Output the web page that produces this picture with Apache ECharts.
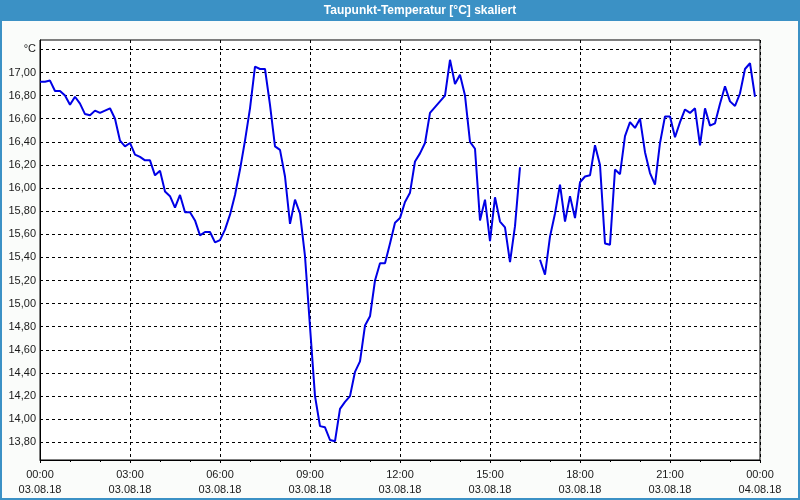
<!DOCTYPE html>
<html>
<head>
<meta charset="utf-8">
<script src="https://cdn.jsdelivr.net/npm/echarts@6/dist/echarts.min.js"></script>
<style>
html,body{margin:0;padding:0;background:#fafcfa;}
#c{width:800px;height:500px;}
</style>
</head>
<body>
<div id="c"></div>
<script>
const titleText = 'Taupunkt-Temperatur [°C] skaliert';
const stepMinutes = 10;
// dew point values every 10 minutes starting 03.08.18 00:00 (null = no data)
const values = [
  16.92,16.92,16.93,16.84,16.84,16.80,16.72,16.79,16.73,16.64,
  16.63,16.67,16.65,16.67,16.69,16.60,16.41,16.36,16.39,16.29,
  16.27,16.24,16.24,16.11,16.15,15.97,15.93,15.83,15.94,15.79,
  15.79,15.72,15.59,15.62,15.62,15.53,15.55,15.64,15.77,15.94,
  16.16,16.41,16.69,17.05,17.03,17.03,16.72,16.36,16.33,16.10,
  15.69,15.90,15.78,15.41,14.80,14.20,13.94,13.93,13.82,13.81,
  14.09,14.15,14.20,14.41,14.50,14.81,14.89,15.20,15.35,15.35,
  15.52,15.70,15.74,15.88,15.96,16.23,16.30,16.39,16.65,16.70,
  16.75,16.80,17.11,16.90,16.98,16.80,16.40,16.34,15.72,15.90,
  15.54,15.92,15.71,15.66,15.36,15.67,16.18,null,null,null,
  15.38,15.25,15.58,15.78,16.03,15.71,15.93,15.74,16.05,16.10,
  16.11,16.37,16.20,15.52,15.51,16.16,16.12,16.45,16.57,16.52,
  16.60,16.31,16.13,16.03,16.39,16.62,16.62,16.44,16.57,16.68,
  16.65,16.69,16.37,16.69,16.54,16.56,16.73,16.88,16.75,16.71,
  16.82,17.03,17.08,16.79
];
const yTicks = [13.8,14.0,14.2,14.4,14.6,14.8,15.0,15.2,15.4,15.6,15.8,16.0,16.2,16.4,16.6,16.8,17.0,17.2];
const yTickLabels = ['13,80','14,00','14,20','14,40','14,60','14,80','15,00','15,20','15,40','15,60','15,80','16,00','16,20','16,40','16,60','16,80','17,00','°C'];
const xTickLabels = ['00:00\n03.08.18','03:00\n03.08.18','06:00\n03.08.18','09:00\n03.08.18','12:00\n03.08.18','15:00\n03.08.18','18:00\n03.08.18','21:00\n03.08.18','00:00\n04.08.18'];

const font = 'Liberation Sans';
const data = values.map((v, i) => [i * stepMinutes / 60, v === null ? '-' : v]);

const chart = echarts.init(document.getElementById('c'), null, {renderer: 'canvas'});
chart.setOption({
  animation: false,
  backgroundColor: '#fafcfa',
  graphic: [
    {type: 'rect', shape: {x: 0, y: 0, width: 800, height: 21}, style: {fill: '#3b91c5'}, z: 10},
    {type: 'rect', shape: {x: 1, y: 0, width: 798, height: 499}, style: {fill: null, stroke: '#3b91c5', lineWidth: 2}, z: 10},
    {type: 'text', x: 420, y: 11, style: {text: titleText, fill: '#ffffff', font: 'bold 12px "Liberation Sans"', textAlign: 'center', textVerticalAlign: 'middle'}, z: 11}
  ],
  grid: {left: 40, right: 40, top: 40, height: 420, show: true, backgroundColor: '#ffffff', borderColor: '#000000', borderWidth: 1},
  xAxis: {
    type: 'value', min: 0, max: 24, interval: 3,
    axisLine: {lineStyle: {color: '#000', width: 1}},
    axisTick: {show: true, length: 3, lineStyle: {color: '#000'}},
    minorTick: {show: true, splitNumber: 3, length: 2, lineStyle: {color: '#000'}},
    splitLine: {show: true, lineStyle: {color: '#000', type: [3, 3], width: 1}},
    axisLabel: {
      margin: 7, lineHeight: 15, color: '#1a1a1a', fontFamily: font, fontSize: 11,
      formatter: v => xTickLabels[Math.round(v / 3)]
    }
  },
  yAxis: {
    type: 'value', min: 13.647, max: 17.281,
    axisLine: {show: true, lineStyle: {color: '#000', width: 1}},
    axisTick: {show: false}, axisLabel: {show: false}, splitLine: {show: false}
  },
  series: [{
    type: 'line', data: data, showSymbol: false, symbol: 'none', connectNulls: false,
    lineStyle: {color: '#0000e6', width: 2}, z: 5,
    markLine: {
      silent: true, symbol: ['none', 'none'], animation: false,
      lineStyle: {color: '#000', type: [3, 3], width: 1},
      label: {position: 'start', distance: 4, color: '#1a1a1a', fontFamily: font, fontSize: 11},
      emphasis: {disabled: true},
      data: yTicks.map((v, i) => ({yAxis: v, label: {formatter: yTickLabels[i]}}))
    }
  }]
});
</script>
</body>
</html>
